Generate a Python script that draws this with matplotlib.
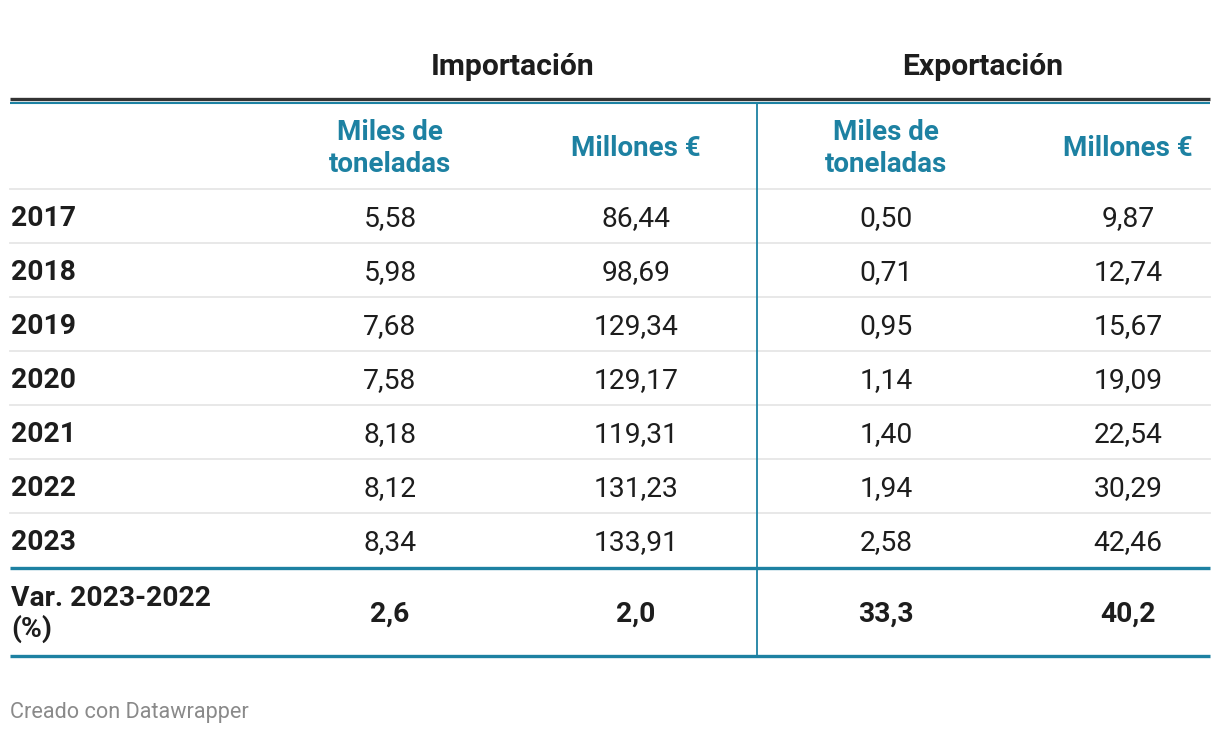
import matplotlib.pyplot as plt
from matplotlib.lines import Line2D

plt.rcParams['font.family'] = ['Roboto', 'DejaVu Sans']

# table data
years = ['2017', '2018', '2019', '2020', '2021', '2022', '2023']
imp_ton = [5.58, 5.98, 7.68, 7.58, 8.18, 8.12, 8.34]
imp_eur = [86.44, 98.69, 129.34, 129.17, 119.31, 131.23, 133.91]
exp_ton = [0.50, 0.71, 0.95, 1.14, 1.40, 1.94, 2.58]
exp_eur = [9.87, 12.74, 15.67, 19.09, 22.54, 30.29, 42.46]
var_label = ['Var. 2023-2022', '(%)']
var_values = [2.6, 2.0, 33.3, 40.2]
groups = ['Importación', 'Exportación']
col_headers = [['Miles de', 'toneladas'], ['Millones €'], ['Miles de', 'toneladas'], ['Millones €']]

TEAL = '#1d81a2'
DARK = '#333333'
TEXT = '#1d1d1d'
GRID = '#e6e6e6'


def fmt(v, dec=2):
    return f'{v:.{dec}f}'.replace('.', ',')


W, H = 1220, 734
fig = plt.figure(figsize=(W / 100, H / 100), dpi=100)
ax = fig.add_axes([0, 0, 1, 1])
ax.set_xlim(0, W)
ax.set_ylim(H, 0)
ax.axis('off')

x_left, x_right = 10, 1210
col_x = [390, 636, 886, 1128]
group_x = [513, 983]
x_div = 757
fs = 20.3

# group headers
for gx, g in zip(group_x, groups):
    ax.text(gx, 75, g, ha='center', va='baseline', fontsize=21.7, fontweight='bold', color=TEXT)

# top rules
ax.add_line(Line2D([x_left, x_right], [99, 99], color=DARK, lw=2.4, solid_capstyle='butt'))
ax.add_line(Line2D([x_left, x_right], [102.5, 102.5], color=TEAL, lw=1.5, solid_capstyle='butt'))

# column headers
for cx, lines in zip(col_x, col_headers):
    if len(lines) == 1:
        ax.text(cx, 156, lines[0], ha='center', va='baseline', fontsize=20,
                fontweight='bold', color=TEAL)
    else:
        for k, ln in enumerate(lines):
            ax.text(cx, 140 + 32 * k, ln, ha='center', va='baseline', fontsize=20,
                    fontweight='bold', color=TEAL)

ax.add_line(Line2D([x_left, x_right], [188.5, 188.5], color=GRID, lw=1.3))

# data rows
row_base, row_h = 226, 54
for i, yr in enumerate(years):
    y = row_base + i * row_h
    ax.text(x_left + 1, y, yr, ha='left', va='baseline', fontsize=fs, fontweight='bold', color=TEXT)
    for cx, v in zip(col_x, [imp_ton[i], imp_eur[i], exp_ton[i], exp_eur[i]]):
        ax.text(cx, y, fmt(v), ha='center', va='baseline', fontsize=fs, color=TEXT)
    if i < len(years) - 1:
        ax.add_line(Line2D([x_left, x_right], [y + 16.5, y + 16.5], color=GRID, lw=1.3))

# variation row
ax.add_line(Line2D([x_left, x_right], [568, 568], color=TEAL, lw=2.4, solid_capstyle='butt'))
for k, ln in enumerate(var_label):
    ax.text(x_left + 1, 606 + 31 * k, ln, ha='left', va='baseline', fontsize=fs,
            fontweight='bold', color=TEXT)
for cx, v in zip(col_x, var_values):
    ax.text(cx, 622, fmt(v, 1), ha='center', va='baseline', fontsize=fs, fontweight='bold', color=TEXT)
ax.add_line(Line2D([x_left, x_right], [656, 656], color=TEAL, lw=2.4, solid_capstyle='butt'))

# vertical divider
ax.add_line(Line2D([x_div, x_div], [103, 656], color=TEAL, lw=1.3))

ax.text(x_left, 718, 'Creado con Datawrapper', ha='left', va='baseline', fontsize=15.6, color='#8a8a8a')

fig.savefig('out.png', dpi=100, facecolor='white')
